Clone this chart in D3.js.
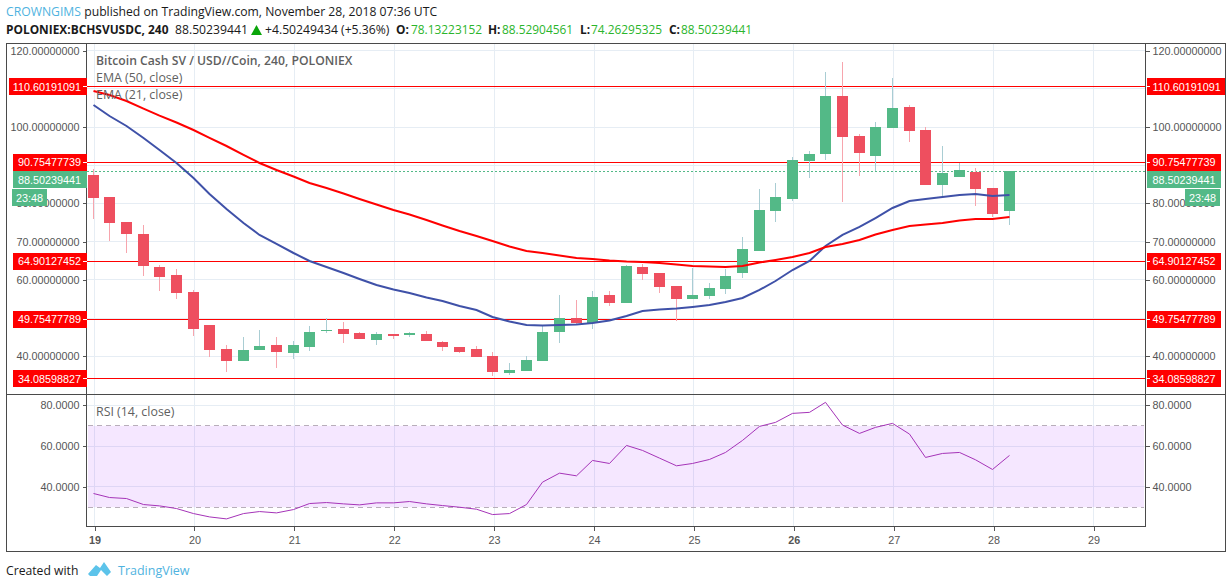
<!DOCTYPE html>
<html lang="en">
<head>
<meta charset="UTF-8">
<title>BCHSVUSDC 240</title>
<script src="https://d3js.org/d3.v7.min.js"></script>
<style>
    html, body { margin: 0; padding: 0; background: #fff; }
    svg { display: block; }
    .head { font-family: "Open Sans", sans-serif; font-size: 12.2px; fill: #1a1a1a; }
    .legend { font-family: "Open Sans", sans-serif; font-size: 12.4px; fill: #5f5f5f; }
    .axis text { font-family: "Liberation Sans", Arial, sans-serif; font-size: 10.8px; fill: #555; }
    .axis path { display: none; }
    .axis line { stroke: #555; shape-rendering: crispEdges; }
    .grid line { stroke: #e6edf4; shape-rendering: crispEdges; }
    .tag text { font-family: "Liberation Sans", Arial, sans-serif; font-size: 10.8px; fill: #fff; }
</style>
</head>
<body>
<div id="chart"></div>
<script>
    // 4h candles, first one at day 19 00:00
    var opens = [87.46,81.70,75.15,72.01,63.37,61.28,56.83,48.19,41.91,38.77,41.65,42.96,40.86,42.43,46.62,47.14,46.10,44.26,45.84,45.57,45.84,43.74,42.43,41.91,40.08,35.63,36.15,38.77,46.36,50.02,48.72,56.04,53.95,63.37,61.80,58.40,55.00,55.78,57.62,61.80,67.56,78.03,81.18,91.12,92.96,108.14,97.67,92.43,99.76,105.26,99.24,84.84,86.93,88.24,84.06,78.13];
    var highs = [89.03,81.70,75.15,74.37,63.90,62.85,57.35,48.19,42.96,45.05,46.88,45.05,44.00,47.93,50.02,48.98,46.36,46.36,45.84,46.36,46.62,44.00,42.43,42.69,41.12,38.24,40.08,48.19,56.04,54.74,57.09,57.09,63.90,64.16,61.80,58.40,63.11,59.19,62.85,71.23,83.79,85.36,92.17,93.74,114.42,117.04,98.19,101.33,112.85,105.79,100.02,95.05,90.60,89.29,84.06,88.53];
    var lows = [75.94,70.18,67.04,61.02,57.09,55.00,45.31,39.81,35.89,38.77,41.65,36.94,39.29,41.38,46.10,43.48,44.53,42.96,44.53,45.05,44.00,41.38,40.86,39.81,34.84,35.10,36.15,38.77,43.48,48.45,47.14,53.17,53.95,59.97,56.57,49.24,55.00,55.00,56.31,60.50,67.56,75.15,80.65,86.67,91.39,80.39,87.20,88.51,99.76,96.10,84.84,81.70,86.93,79.34,76.46,74.26];
    var closes = [81.44,74.89,72.01,63.64,60.76,56.57,47.14,41.65,38.77,41.65,42.69,41.12,42.96,46.36,46.88,45.84,44.53,45.84,45.31,46.10,44.00,42.43,41.12,39.81,35.89,36.41,39.03,46.36,50.02,48.72,55.52,53.95,63.64,61.54,58.14,55.00,56.04,57.88,61.02,68.09,78.30,81.70,91.39,92.96,108.14,97.41,93.22,100.02,105.00,98.98,84.84,87.98,88.77,83.79,77.25,88.50];

    var emaBlue = [105.78,102.90,100.29,97.15,94.00,90.60,86.67,82.49,78.56,74.89,71.76,69.40,67.04,64.95,63.37,61.81,60.23,58.66,57.49,56.57,55.39,54.47,53.17,52.12,50.29,49.11,48.19,48.06,48.19,48.32,48.72,49.37,50.55,51.86,52.25,52.51,52.91,53.43,54.21,55.26,57.36,59.71,62.59,64.95,68.87,71.76,73.85,76.20,78.82,80.65,81.18,81.70,82.23,82.49,81.96,82.23];
    var emaRed = [109.45,108.40,106.83,104.84,103.01,101.20,99.24,97.15,95.05,92.70,90.60,88.77,87.07,85.36,84.06,82.62,81.18,79.74,78.30,77.12,75.67,74.24,72.80,71.49,70.18,68.74,67.56,67.04,66.39,65.73,65.47,65.08,64.82,64.69,64.42,64.03,63.64,63.51,63.38,63.64,64.55,65.21,65.99,67.04,68.61,69.40,70.44,71.88,73.06,74.11,74.50,74.89,75.55,75.94,75.94,76.47];
    var rsi = [36.72,34.75,34.25,31.30,30.64,29.33,26.86,25.22,24.24,26.86,27.85,27.19,28.83,31.79,32.28,31.63,31.13,32.12,32.12,32.78,31.63,30.80,29.98,29.00,26.37,26.86,31.30,42.30,46.73,45.42,52.97,51.49,60.36,57.90,54.12,50.34,51.49,53.46,56.91,62.82,69.72,71.69,76.12,76.62,81.54,70.38,66.27,69.23,71.20,65.94,54.45,56.42,56.91,53.30,48.54,55.44];

    var levels = [110.60191091, 90.75477739, 64.90127452, 49.75477789, 34.08598827];
    var levelLabels = ["110.60191091", "90.75477739", "64.90127452", "49.75477789", "34.08598827"];
    var lastPrice = 88.50239441;
    var lastLabel = "88.50239441";
    var countdown = "23:48";
    var priceGrid = [120, 110, 100, 90, 80, 70, 60, 50, 40];
    var priceTicks = [120, 100, 80, 70, 60, 40];
    var rsiTicks = [80, 60, 40];
    var rsiBand = [70, 30];
    var dayTicks = [19, 20, 21, 22, 23, 24, 25, 26, 27, 28, 29];

    var W = 1232, H = 588;
    var frame = { left: 6.5, right: 1225.5, top: 43.5, bottom: 551.5 };
    var paneLeft = 86.5, paneRight = 1145.5, split = 394.5, rsiBottom = 526.5;

    var green = "#53b987", red = "#ee4f5f", wickGreen = "#a9cdd3", wickRed = "#f7a5ad";
    var blue_ = "#3f51a8", level = "#ff0000";

    var svg = d3.select("#chart").append("svg").attr("width", W).attr("height", H);

    var x = d3.scaleLinear().domain([19, 29]).range([94.5, 1093.5]);
    // candles sit on whole pixels, about one pixel left of the day grid
    var candleX = function (i) { return Math.floor(x(19 + i / 6) - 1.2) + 0.5; };
    var y = d3.scaleLinear().domain([30.0, 121.88]).range([split, frame.top]);
    var yRsi = d3.scaleLinear().domain([20.5, 85.4]).range([rsiBottom, split]);

    // grid
    var grid = svg.append("g").attr("class", "grid");
    grid.selectAll(".gp").data(priceGrid).enter().append("line")
        .attr("x1", paneLeft).attr("x2", paneRight)
        .attr("y1", function (d) { return y(d); }).attr("y2", function (d) { return y(d); });
    grid.selectAll(".gr").data(rsiTicks).enter().append("line")
        .attr("x1", paneLeft).attr("x2", paneRight)
        .attr("y1", function (d) { return yRsi(d); }).attr("y2", function (d) { return yRsi(d); });
    grid.selectAll(".gd").data(dayTicks).enter().append("line")
        .attr("x1", function (d) { return x(d); }).attr("x2", function (d) { return x(d); })
        .attr("y1", frame.top).attr("y2", rsiBottom);

    // rsi band
    svg.append("rect")
        .attr("x", 88).attr("width", 1144 - 88)
        .attr("y", yRsi(rsiBand[0])).attr("height", yRsi(rsiBand[1]) - yRsi(rsiBand[0]))
        .attr("fill", "#9915ff").attr("fill-opacity", 0.1);
    svg.selectAll(".band").data(rsiBand).enter().append("line")
        .attr("x1", 88).attr("x2", 1144)
        .attr("y1", function (d) { return yRsi(d); }).attr("y2", function (d) { return yRsi(d); })
        .attr("stroke", "#b8aeba").attr("stroke-dasharray", "5,4")
        .style("shape-rendering", "crispEdges");

    // horizontal levels
    svg.selectAll(".level").data(levels).enter().append("line")
        .attr("x1", paneLeft).attr("x2", paneRight)
        .attr("y1", function (d) { return y(d); }).attr("y2", function (d) { return y(d); })
        .attr("stroke", level).style("shape-rendering", "crispEdges");

    svg.append("line")
        .attr("x1", paneLeft).attr("x2", paneRight)
        .attr("y1", y(lastPrice)).attr("y2", y(lastPrice))
        .attr("stroke", green).attr("stroke-dasharray", "2,2")
        .style("shape-rendering", "crispEdges");

    // candles
    var candles = svg.append("g").selectAll("g").data(opens).enter().append("g");
    var isUp = function (i) { return closes[i] >= opens[i]; };
    candles.append("line")
        .attr("x1", function (d, i) { return candleX(i); })
        .attr("x2", function (d, i) { return candleX(i); })
        .attr("y1", function (d, i) { return y(highs[i]); })
        .attr("y2", function (d, i) { return y(lows[i]); })
        .attr("stroke", function (d, i) { return isUp(i) ? wickGreen : wickRed; })
        .style("shape-rendering", "crispEdges");
    candles.append("rect")
        .attr("x", function (d, i) { return candleX(i) - 5.5; })
        .attr("width", 11)
        .attr("y", function (d, i) { return y(Math.max(opens[i], closes[i])); })
        .attr("height", function (d, i) { return Math.max(1, Math.abs(y(opens[i]) - y(closes[i]))); })
        .attr("fill", function (d, i) { return isUp(i) ? green : red; })
        .style("shape-rendering", "crispEdges");

    // ema lines
    var line = d3.line().x(function (d, i) { return candleX(i); }).y(function (d) { return y(d); });
    svg.append("path").attr("d", line(emaBlue)).attr("fill", "none").attr("stroke", blue_).attr("stroke-width", 2);
    svg.append("path").attr("d", line(emaRed)).attr("fill", "none").attr("stroke", level).attr("stroke-width", 2);

    var rsiLine = d3.line().x(function (d, i) { return candleX(i); }).y(function (d) { return yRsi(d); });
    svg.append("path").attr("d", rsiLine(rsi)).attr("fill", "none").attr("stroke", "#a534b8").attr("stroke-width", 1);

    // axes
    var fmt8 = d3.format(".8f"), fmt4 = d3.format(".4f");
    svg.append("g").attr("class", "axis").attr("transform", "translate(" + paneLeft + ",0)")
        .call(d3.axisLeft(y).tickValues(priceTicks).tickFormat(fmt8).tickSize(4).tickPadding(3));
    svg.append("g").attr("class", "axis").attr("transform", "translate(" + paneRight + ",0)")
        .call(d3.axisRight(y).tickValues(priceTicks).tickFormat(fmt8).tickSize(4).tickPadding(3));
    svg.append("g").attr("class", "axis").attr("transform", "translate(" + paneLeft + ",0)")
        .call(d3.axisLeft(yRsi).tickValues(rsiTicks).tickFormat(fmt4).tickSize(4).tickPadding(3));
    svg.append("g").attr("class", "axis").attr("transform", "translate(" + paneRight + ",0)")
        .call(d3.axisRight(yRsi).tickValues(rsiTicks).tickFormat(fmt4).tickSize(4).tickPadding(3));
    var dayAxis = svg.append("g").attr("class", "axis").attr("transform", "translate(0," + rsiBottom + ")")
        .call(d3.axisBottom(x).tickValues(dayTicks).tickFormat(d3.format("d")).tickSize(4).tickPadding(6));
    dayAxis.selectAll("text").filter(function (d) { return d === 19 || d === 26; }).style("font-weight", 700);

    // frames
    var frames = svg.append("g").attr("fill", "none").attr("stroke", "#4a4a4a").style("shape-rendering", "crispEdges");
    frames.append("rect").attr("x", frame.left).attr("y", frame.top)
        .attr("width", frame.right - frame.left).attr("height", frame.bottom - frame.top);
    frames.append("line").attr("x1", frame.left).attr("x2", frame.right).attr("y1", split).attr("y2", split);
    frames.append("line").attr("x1", paneLeft).attr("x2", paneLeft).attr("y1", frame.top).attr("y2", rsiBottom);
    frames.append("line").attr("x1", paneRight).attr("x2", paneRight).attr("y1", frame.top).attr("y2", rsiBottom);
    frames.append("line").attr("x1", paneLeft).attr("x2", paneRight).attr("y1", rsiBottom).attr("y2", rsiBottom);

    // price tags on both scales
    function tag(py, w, txt, color, side) {
        var g = svg.append("g").attr("class", "tag");
        var x0 = side === "left" ? paneLeft - w : paneRight + 1;
        g.append("rect").attr("x", x0).attr("y", py - 8.5).attr("width", w).attr("height", 17).attr("fill", color)
            .style("shape-rendering", "crispEdges");
        g.append("text").attr("x", side === "left" ? paneLeft - 5.5 : paneRight + 7)
            .attr("y", py + 4).attr("text-anchor", side === "left" ? "end" : "start").text(txt);
    }
    levels.forEach(function (d, i) {
        var w = d >= 100 ? 78 : 74;
        tag(y(d), w, levelLabels[i], "#ff0000", "left");
        tag(y(d), w, levelLabels[i], "#ff0000", "right");
        svg.append("line").attr("x1", paneLeft - 4).attr("x2", paneLeft).attr("y1", y(d)).attr("y2", y(d))
            .attr("stroke", "#fff").style("shape-rendering", "crispEdges");
        svg.append("line").attr("x1", paneRight).attr("x2", paneRight + 4).attr("y1", y(d)).attr("y2", y(d))
            .attr("stroke", "#fff").style("shape-rendering", "crispEdges");
    });
    tag(y(lastPrice) + 8.5, 74, lastLabel, green, "left");
    tag(y(lastPrice) + 8.5, 74, lastLabel, green, "right");

    // countdown boxes
    var cd = svg.append("g").attr("class", "tag");
    [12, 1185].forEach(function (bx) {
        cd.append("rect").attr("x", bx).attr("y", 189).attr("width", 35).attr("height", 17).attr("fill", green)
            .style("shape-rendering", "crispEdges");
        cd.append("text").attr("x", bx + 17.5).attr("y", 201.5).attr("text-anchor", "middle").text(countdown);
    });

    // header
    var h1 = svg.append("text").attr("class", "head").attr("x", 6).attr("y", 16);
    h1.append("tspan").style("fill", "#4fb3e0").text("CROWNGIMS");
    h1.append("tspan").text(" published on TradingView.com, November 28, 2018 07:36 UTC");

    var h2 = svg.append("text").attr("class", "head").attr("x", 6).attr("y", 34);
    h2.append("tspan").style("font-weight", 700).style("font-size", "11.9px").text("POLONIEX:BCHSVUSDC, 240");
    h2.append("tspan").attr("x", 175).text("88.50239441");
    svg.append("path").attr("d", "M251 35 L262 35 L256.5 25 Z").attr("fill", "#0aa50a");
    h2.append("tspan").attr("x", 265).text("+4.50249434 (+5.36%)");
    var ohlc = [["O:", "78.13223152", 396, 411], ["H:", "88.52904561", 488, 502], ["L:", "74.26295325", 580, 591], ["C:", "88.50239441", 669, 681]];
    ohlc.forEach(function (d) {
        h2.append("tspan").attr("x", d[2]).style("font-weight", 700).style("font-size", "11.9px").text(d[0]);
        h2.append("tspan").attr("x", d[3]).style("fill", "#2bb52b").style("font-size", "11.9px").text(d[1]);
    });

    // pane legends
    svg.append("text").attr("class", "legend").attr("x", 96).attr("y", 65).style("font-weight", 600).style("font-size", "12.2px").text("Bitcoin Cash SV / USD//Coin, 240, POLONIEX");
    svg.append("text").attr("class", "legend").attr("x", 96).attr("y", 82).text("EMA (50, close)");
    svg.append("text").attr("class", "legend").attr("x", 96).attr("y", 99).text("EMA (21, close)");
    svg.append("text").attr("class", "legend").attr("x", 96).attr("y", 416).text("RSI (14, close)");

    // footer
    svg.append("text").attr("class", "head").attr("x", 6).attr("y", 575).text("Created with");
    svg.append("path").attr("d", "M88 574 L96 565 L100 568 L104 562 L111 572 L107 576 L101 570 L97 576 L90 576 Z").attr("fill", "#5cc3ea");
    svg.append("text").attr("class", "head").attr("x", 118).attr("y", 575).style("fill", "#4fb3e0").style("font-size", "12.5px").text("TradingView");
</script>
</body>
</html>
